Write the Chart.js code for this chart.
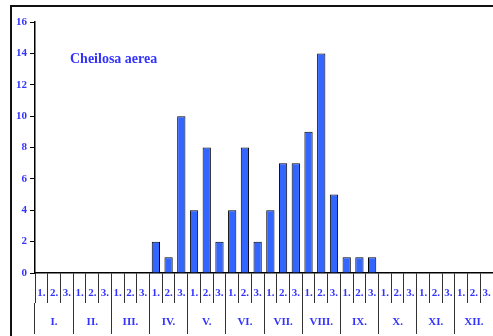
<!DOCTYPE html>
<html>
<head>
<meta charset="utf-8">
<script src="https://cdn.jsdelivr.net/npm/chart.js@4"></script>
<style>
    body { margin: 0; background: #fff; }
    #wrap { position: relative; width: 493px; height: 336px; }
    #frame { position: absolute; left: 10px; top: 5px; right: -5px; bottom: -5px;
             border-top: 2px solid #111; border-left: 2px solid #111; }
    canvas { position: absolute; left: 0; top: 0; }
</style>
</head>
<body>
<div id="wrap">
    <div id="frame"></div>
    <canvas id="chart" width="493" height="336"></canvas>
</div>
<script>
// decades of each month
const decades = ["1.", "2.", "3."];
const months = ["I.", "II.", "III.", "IV.", "V.", "VI.", "VII.", "VIII.", "IX.", "X.", "XI.", "XII."];
const yTicks = [0, 2, 4, 6, 8, 10, 12, 14, 16];

// counts per decade, Jan..Dec
const counts = [
    0, 0, 0,
    0, 0, 0,
    0, 0, 0,
    2, 1, 10,
    4, 8, 2,
    4, 8, 2,
    4, 7, 7,
    9, 14, 5,
    1, 1, 1,
    0, 0, 0,
    0, 0, 0,
    0, 0, 0
];

const labels = [];
months.forEach(() => decades.forEach(d => labels.push(d)));

const blue = "#3333ff";
const tickFont = { family: "Liberation Serif", size: 11, weight: "bold" };

// species name inside the plot
const titlePlugin = {
    id: "speciesTitle",
    afterDatasetsDraw(chart) {
        const ctx = chart.ctx;
        ctx.save();
        ctx.fillStyle = blue;
        ctx.font = "bold 14px 'Liberation Serif'";
        ctx.textBaseline = "middle";
        ctx.fillText("Cheilosa aerea", chart.chartArea.left + 35, 59);
        ctx.restore();
    }
};

const ctx = document.getElementById("chart").getContext("2d");
const myChart = new Chart(ctx, {
    type: "bar",
    data: {
        labels: labels,
        datasets: [{
            data: counts,
            backgroundColor: "#3366ff",
            borderColor: "#000",
            borderWidth: 1,
            barPercentage: 0.65,
            categoryPercentage: 1
        }]
    },
    options: {
        responsive: false,
        animation: false,
        layout: { padding: { left: 10, top: 22, right: 0, bottom: 2 } },
        plugins: {
            legend: { display: false },
            tooltip: { enabled: false }
        },
        scales: {
            x: {
                type: "category",
                offset: true,
                grid: { offset: true, drawOnChartArea: false, tickLength: 30, color: "#333", lineWidth: 1 },
                border: { display: true, color: "#000", width: 1.5 },
                ticks: { color: blue, font: tickFont, padding: -16, autoSkip: false, maxRotation: 0 },
                afterFit: s => { s.height = 30; }
            },
            x2: {
                type: "category",
                position: "bottom",
                labels: months,
                offset: true,
                grid: { offset: true, drawOnChartArea: false, tickLength: 31, color: "#333", lineWidth: 1 },
                border: { display: false },
                ticks: { color: blue, font: tickFont, padding: -18, autoSkip: false, maxRotation: 0 },
                afterFit: s => { s.height = 31; }
            },
            y: {
                min: 0,
                max: 16,
                afterBuildTicks: s => { s.ticks = yTicks.map(v => ({ value: v })); },
                grid: { drawOnChartArea: false, tickLength: 5, color: "#000" },
                border: { display: true, color: "#000", width: 1.5 },
                ticks: { color: blue, font: tickFont, padding: 3 },
                afterFit: s => { s.width = 25; }
            }
        }
    },
    plugins: [titlePlugin]
});
</script>
</body>
</html>
